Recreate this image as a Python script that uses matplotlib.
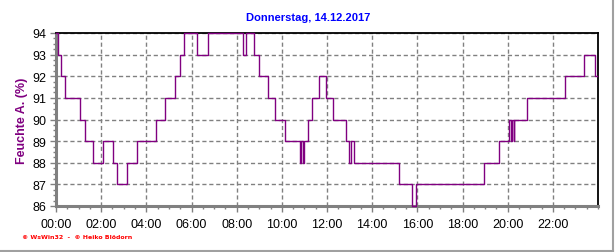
import matplotlib
matplotlib.use('Agg')
import matplotlib.pyplot as plt
from matplotlib.lines import Line2D
from matplotlib.ticker import MultipleLocator

# change points: hour of day, humidity (%)
hours = [0.0, 0.07, 0.24, 0.40, 1.07, 1.29, 1.66, 2.06, 2.54, 2.71, 3.15, 3.57,
         4.43, 4.83, 5.28, 5.48, 5.67, 6.23, 6.72, 8.26, 8.42, 8.77, 9.01,
         9.38, 9.69, 10.13, 10.80, 10.87, 10.93, 10.99, 11.16, 11.35, 11.63,
         11.96, 12.27, 12.83, 12.98, 13.07, 13.19, 15.20, 15.75, 15.96,
         18.93, 19.60, 20.08, 20.14, 20.20, 20.26, 20.30, 20.86, 22.53,
         23.38, 23.88, 23.96]
humidity = [94, 93, 92, 91, 90, 89, 88, 89, 88, 87, 88, 89,
            90, 91, 92, 93, 94, 93, 94, 93, 94, 93, 92,
            91, 90, 89, 88, 89, 88, 89, 90, 91, 92,
            91, 90, 89, 88, 89, 88, 87, 86, 87,
            88, 89, 90, 89, 90, 89, 90, 91, 92,
            93, 92, 92]

x_ticks = list(range(0, 24, 2))
x_labels = ['%02d:00' % h for h in x_ticks]
y_ticks = list(range(86, 95))

TITLE = 'Donnerstag, 14.12.2017'
YLABEL = 'Feuchte A. (%)'
FOOTER = '\u00a9 WsWin32  -  \u00a9 Heiko Bl\u00f6dorn'

plt.rcParams['font.family'] = ['Liberation Sans', 'DejaVu Sans']

fig = plt.figure(figsize=(6.16, 2.53), dpi=100)
fig.patch.set_facecolor('white')
ax = fig.add_axes([56/616, 46/253, 542/616, 173/253])

ax.plot(hours, humidity, drawstyle='steps-post', color='#800080', lw=1.0,
        zorder=5, clip_on=False)

ax.set_xlim(0, 24)
ax.set_ylim(86, 94)
ax.set_xticks(x_ticks)
ax.set_xticklabels(x_labels)
ax.set_yticks(y_ticks)
ax.xaxis.set_minor_locator(MultipleLocator(0.5))
ax.yaxis.set_minor_locator(MultipleLocator(0.25))

ax.grid(True, which='major', color='#808080', linestyle=(0, (3, 2)), lw=1)
ax.tick_params(axis='both', which='major', labelsize=9, color='#808080',
               length=4, width=1, pad=3)
ax.tick_params(axis='x', which='major', pad=5)
ax.tick_params(axis='both', which='minor', color='#808080', length=2, width=1)

for side in ['left', 'bottom']:
    ax.spines[side].set_color('#808080')
    ax.spines[side].set_linewidth(2.2)
for side in ['top', 'right']:
    ax.spines[side].set_color('black')
    ax.spines[side].set_linewidth(1.3)

ax.set_ylabel(YLABEL, color='#800080', fontsize=9, fontweight='bold', labelpad=3)
fig.text(0.5, 1 - 18/253, TITLE, color='#0000ff', fontsize=8, fontweight='bold',
         ha='center', va='center')
fig.text(22/616, 1 - 238/253, FOOTER, color='#ff0000', fontsize=4.5,
         fontweight='bold', ha='left', va='center', family='DejaVu Sans')

# gray frame at right and bottom
fig.add_artist(Line2D([612.5/616, 612.5/616], [0, 1], color='#a0a0a0', lw=1.5))
fig.add_artist(Line2D([0, 613/616], [1/253, 1/253], color='#a0a0a0', lw=1.5))

fig.savefig('out.png', dpi=100)
